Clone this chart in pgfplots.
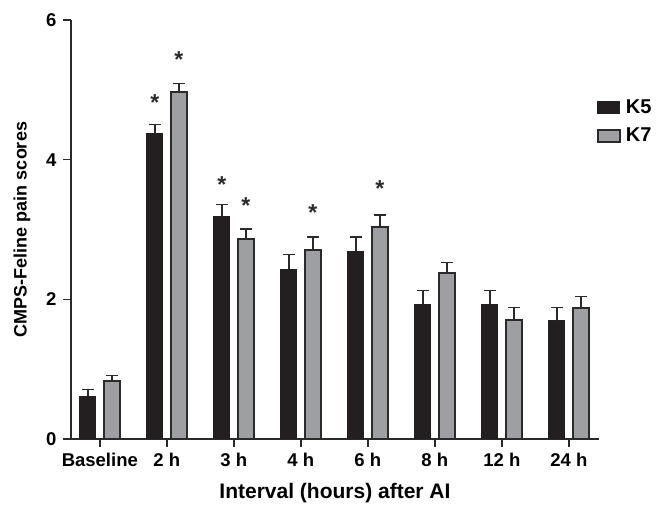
\documentclass[border=0pt]{standalone}
\usepackage{fontspec}
\setmainfont{Liberation Sans}
\usepackage{pgfplots}
\pgfplotsset{compat=1.18}
\definecolor{kfive}{HTML}{231F20}
\definecolor{kseven}{HTML}{9D9FA2}
\definecolor{edge}{HTML}{2A2A2A}
\begin{document}
\begin{tikzpicture}
\begin{axis}[
  name=ax,
  scale only axis, width=528pt, height=419pt,
  xmin=-0.43, xmax=7.45, ymin=0, ymax=6,
  axis lines*=left,
  axis line style={line width=1.6pt, color=edge},
  xtick={0,1,2,3,4,5,6,7},
  xticklabels={Baseline,2 h,3 h,4 h,6 h,8 h,12 h,24 h},
  ytick={0,2,4,6},
  tick style={line width=1.6pt, color=edge},
  major tick length=8pt,
  tick align=outside,
  tick label style={font=\fontsize{18.5}{18.5}\selectfont\bfseries},
  xticklabel style={yshift=-3pt},
  yticklabel style={xshift=-3pt},
  /pgf/number format/assume math mode=true,
  ylabel={\textbf{CMPS-Feline pain scores}},
  xlabel={\textbf{Interval (hours) after AI}},
  ylabel style={font=\fontsize{18}{18}\selectfont, yshift=9pt},
  xlabel style={font=\fontsize{21}{21}\selectfont, yshift=-9pt},
  legend style={at={(rel axis cs:0.99,0.82)}, anchor=north west, draw=none,
    font=\fontsize{20}{20}\selectfont\bfseries, row sep=9pt, fill=none,
    nodes={inner xsep=5pt}},
  legend cell align=left,
  legend image code/.code={\draw[#1] (0pt,-6pt) rectangle (22pt,6pt);},
  error bars/error bar style={line width=1.5pt, color=edge},
  error bars/error mark options={rotate=90, mark size=6pt, line width=1.5pt, color=edge},
]
\addplot[ybar, bar width=16pt, bar shift=0pt, fill=kfive, draw=kfive, line width=1pt,
  error bars/.cd, y dir=plus, y explicit]
coordinates {
(-0.18,0.61) +- (0,0.10)
(0.82,4.37) +- (0,0.13)
(1.82,3.19) +- (0,0.17)
(2.82,2.43) +- (0,0.21)
(3.82,2.69) +- (0,0.20)
(4.82,1.93) +- (0,0.20)
(5.82,1.93) +- (0,0.20)
(6.82,1.69) +- (0,0.19)
};
\addlegendentry{K5}
\addplot[ybar, bar width=16pt, bar shift=0pt, fill=kseven, draw=edge, line width=2pt,
  error bars/.cd, y dir=plus, y explicit]
coordinates {
(0.18,0.83) +- (0,0.08)
(1.18,4.97) +- (0,0.12)
(2.18,2.87) +- (0,0.14)
(3.18,2.71) +- (0,0.18)
(4.18,3.03) +- (0,0.18)
(5.18,2.37) +- (0,0.16)
(6.18,1.71) +- (0,0.17)
(7.18,1.87) +- (0,0.17)
};
\addlegendentry{K7}
\addplot[draw=none, mark=none, forget plot,
  point meta=explicit symbolic,
  nodes near coords={\textbf{*}},
  nodes near coords align={center},
  every node near coord/.append style={font=\fontsize{23}{23}\selectfont, anchor=center, text=edge}]
coordinates {
(0.82,4.82) [a]
(1.18,5.44) [a]
(1.82,3.64) [a]
(2.18,3.34) [a]
(3.18,3.24) [a]
(4.18,3.58) [a]
};
\end{axis}
\path[use as bounding box] ([shift={(-71pt,-82pt)}]ax.south west) rectangle ([shift={(593pt,439pt)}]ax.south west);
\end{tikzpicture}
\end{document}
